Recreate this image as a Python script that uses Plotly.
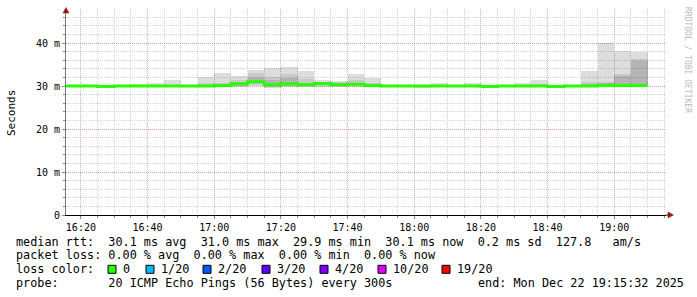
import plotly.graph_objects as go
import pandas as pd

# ---------------- data ----------------
day = "2025-12-22 "
bin_start = ["16:15", "16:20", "16:25", "16:30", "16:35", "16:40", "16:45", "16:50",
             "16:55", "17:00", "17:05", "17:10", "17:15", "17:20", "17:25", "17:30",
             "17:35", "17:40", "17:45", "17:50", "17:55", "18:00", "18:05", "18:10",
             "18:15", "18:20", "18:25", "18:30", "18:35", "18:40", "18:45", "18:50",
             "18:55", "19:00", "19:05"]
last_end = "19:10"

rtt_min = [29.8, 29.8, 29.8, 29.8, 29.8, 29.8, 29.8, 29.8, 29.8, 29.8, 29.7, 29.9,
           29.5, 29.7, 29.7, 29.8, 29.8, 29.8, 29.8, 29.8, 29.8, 29.5, 29.8, 29.8,
           29.8, 29.5, 29.8, 29.8, 29.8, 29.5, 29.8, 29.8, 29.8, 29.8, 29.8]
rtt_p10 = [29.9, 29.9, 29.8, 29.9, 29.9, 29.9, 29.9, 29.9, 29.9, 29.9, 29.9, 30.2,
           29.8, 29.9, 29.9, 30.0, 29.9, 30.0, 29.9, 29.9, 29.9, 29.7, 29.9, 29.9,
           29.9, 29.7, 29.9, 29.9, 29.9, 29.7, 29.9, 29.9, 29.9, 30.0, 30.0]
rtt_p25 = [29.9, 29.9, 29.9, 29.9, 29.9, 30.0, 30.0, 29.9, 30.0, 30.0, 30.1, 30.6,
           30.0, 30.1, 30.1, 30.2, 30.0, 30.2, 30.0, 29.9, 29.9, 29.8, 29.9, 29.9,
           29.9, 29.8, 29.9, 29.9, 30.0, 29.8, 29.9, 30.0, 30.0, 30.1, 30.2]
rtt_median = [30.0, 30.0, 29.9, 30.0, 30.0, 30.0, 30.0, 30.0, 30.0, 30.1, 30.5, 31.0,
              30.3, 30.5, 30.3, 30.6, 30.3, 30.4, 30.1, 30.0, 30.0, 30.0, 30.0, 30.0,
              30.0, 29.9, 30.0, 30.0, 30.0, 29.9, 30.0, 30.0, 30.1, 30.1, 30.1]
rtt_p75 = [30.0, 30.0, 30.0, 30.0, 30.1, 30.1, 30.1, 30.0, 30.2, 30.3, 30.9, 32.2,
           31.4, 31.8, 30.8, 30.8, 30.6, 30.8, 30.3, 30.0, 30.0, 30.0, 30.1, 30.0,
           30.1, 30.0, 30.0, 30.1, 30.1, 30.0, 30.1, 30.5, 30.7, 32.3, 35.8]
rtt_p90 = [30.1, 30.1, 30.0, 30.1, 30.2, 30.3, 30.3, 30.1, 30.6, 30.6, 31.3, 33.0,
           32.2, 32.7, 31.6, 31.0, 30.9, 31.4, 30.7, 30.1, 30.1, 30.1, 30.3, 30.1,
           30.3, 30.1, 30.0, 30.3, 30.5, 30.1, 30.2, 30.9, 31.0, 32.8, 36.3]
rtt_max = [30.3, 30.3, 30.1, 30.2, 30.4, 30.8, 31.4, 30.2, 32.0, 33.1, 32.3, 33.8,
           34.2, 34.5, 33.6, 31.3, 31.2, 32.8, 31.9, 30.2, 30.3, 30.3, 30.6, 30.2,
           30.8, 30.3, 30.1, 30.8, 31.4, 30.2, 30.3, 33.6, 40.0, 38.1, 37.8]

y_tick_vals = [0, 10, 20, 30, 40]
y_tick_text = ["0", "10 m", "20 m", "30 m", "40 m"]

stat_lines = [
    "median rtt:  30.1 ms avg  31.0 ms max  29.9 ms min  30.1 ms now  0.2 ms sd  127.8   am/s",
    "packet loss: 0.00 % avg  0.00 % max  0.00 % min  0.00 % now",
]
loss_title = "loss color:"
loss_labels = ["0", "1/20", "2/20", "3/20", "4/20", "10/20", "19/20"]
loss_colors = ["#26ff00", "#00b8ff", "#0059ff", "#5e00ff", "#7e00ff", "#dd00ff", "#ff0000"]
probe_text = "probe:       20 ICMP Echo Pings (56 Bytes) every 300s"
end_text = "end: Mon Dec 22 19:15:32 2025"
watermark = "RRDTOOL / TOBI OETIKER"

# ---------------- figure ----------------
W, H = 697, 297
L, R, T, B = 66, 31, 9, 82
PW, PH = W - L - R, H - T - B


def px(x):
    return (x - L) / PW


def py(y):
    return (H - B - y) / PH


MONO = "DejaVu Sans Mono"
xs = pd.to_datetime([day + t for t in bin_start])
step_ms = 5 * 60 * 1000

fig = go.Figure()

bands = [
    (rtt_min, rtt_max, "rgba(0,0,0,0.135)"),
    (rtt_p10, rtt_p90, "rgba(0,0,0,0.09)"),
    (rtt_p25, rtt_p75, "rgba(0,0,0,0.10)"),
]
for lo, hi, col in bands:
    fig.add_trace(go.Bar(
        x=xs, y=[h - l for h, l in zip(hi, lo)], base=lo,
        width=step_ms, offset=0,
        marker=dict(color=col, line=dict(width=0)),
        hoverinfo="skip", showlegend=False,
    ))

med_x = list(xs) + [pd.Timestamp(day + last_end)]
med_y = rtt_median + [rtt_median[-1]]
fig.add_trace(go.Scatter(
    x=med_x, y=med_y, mode="lines", line=dict(color=loss_colors[0], width=3, shape="hv"),
    hoverinfo="skip", showlegend=False,
))

fig.update_layout(
    width=W, height=H,
    margin=dict(l=L, r=R, t=T, b=B, pad=0),
    paper_bgcolor="white", plot_bgcolor="white",
    barmode="overlay", bargap=0,
    showlegend=False,
    font=dict(family=MONO, color="#000"),
)

fig.update_xaxes(
    type="date",
    range=[day + "16:15:32", day + "19:15:32"],
    tickformat="%H:%M",
    tick0=day + "16:20", dtick=20 * 60 * 1000,
    showgrid=True, gridcolor="rgba(215,110,110,0.55)", griddash="1px,1px", gridwidth=1,
    minor=dict(dtick=5 * 60 * 1000, tick0=day + "16:20", showgrid=True,
               gridcolor="rgba(170,170,170,0.5)", griddash="1px,1px", gridwidth=1,
               ticks="outside", ticklen=2, tickcolor="#888"),
    showline=True, linecolor="black", linewidth=1,
    ticks="outside", ticklen=3, tickcolor="#888",
    tickfont=dict(family=MONO, size=10, color="#000"),
    zeroline=False,
)
fig.update_yaxes(
    range=[0, PH / 4.3],
    tickvals=y_tick_vals, ticktext=y_tick_text,
    showgrid=True, gridcolor="rgba(215,110,110,0.55)", griddash="1px,1px", gridwidth=1,
    minor=dict(dtick=2, showgrid=True, gridcolor="rgba(170,170,170,0.5)",
               griddash="1px,1px", gridwidth=1, ticks="outside", ticklen=2, tickcolor="#888"),
    showline=True, linecolor="#777", linewidth=1,
    ticks="outside", ticklen=3, tickcolor="#888",
    tickfont=dict(family=MONO, size=10, color="#000"),
    zeroline=False,
)

shapes = []
# axis arrows
shapes.append(dict(type="line", xref="paper", yref="paper", x0=1, x1=px(669), y0=0, y1=0,
                   line=dict(color="black", width=1)))
shapes.append(dict(type="path", xref="paper", yref="paper",
                   path=f"M {px(668)},{py(212)} L {px(673.5)},{py(215)} L {px(668)},{py(218)} Z",
                   fillcolor="#8b1a1a", line=dict(color="#8b1a1a", width=0.5)))
shapes.append(dict(type="path", xref="paper", yref="paper",
                   path=f"M {px(63)},{py(13)} L {px(66)},{py(7.5)} L {px(69)},{py(13)} Z",
                   fillcolor="#8b1a1a", line=dict(color="#8b1a1a", width=0.5)))

annotations = []
annotations.append(dict(text="Seconds", textangle=-90, x=px(11), y=py(113), xref="paper",
                        yref="paper", showarrow=False, font=dict(family=MONO, size=11, color="#000"),
                        xanchor="center", yanchor="middle"))
annotations.append(dict(text=watermark, textangle=90, x=px(688), y=py(60), xref="paper",
                        yref="paper", showarrow=False, font=dict(family=MONO, size=8, color="#bbbbbb"),
                        xanchor="center", yanchor="middle"))

LF = 11.8


def nb(s):
    return s.replace(" ", "\u00a0")


def text_at(s, x, y):
    annotations.append(dict(text=nb(s), x=px(x), y=py(y), xref="paper", yref="paper",
                            showarrow=False, xanchor="left", yanchor="middle", borderpad=0,
                            font=dict(family=MONO, size=LF, color="#000")))


row_y = [241.7, 255.3, 269.3, 283.3]
text_at(stat_lines[0], 15, row_y[0])
text_at(stat_lines[1], 15, row_y[1])
text_at(loss_title, 15, row_y[2])
box_x = [108, 146, 203, 262, 320, 378, 442]
for bx, lab, col in zip(box_x, loss_labels, loss_colors):
    shapes.append(dict(type="rect", xref="paper", yref="paper",
                       x0=px(bx), x1=px(bx + 8), y0=py(row_y[2] + 4), y1=py(row_y[2] - 4),
                       fillcolor=col, line=dict(color="black", width=1)))
    text_at(lab, bx + 14, row_y[2])
text_at(probe_text, 15, row_y[3])
text_at(end_text, 477, row_y[3])

fig.update_layout(shapes=shapes, annotations=annotations)
fig.write_html("out.html")
